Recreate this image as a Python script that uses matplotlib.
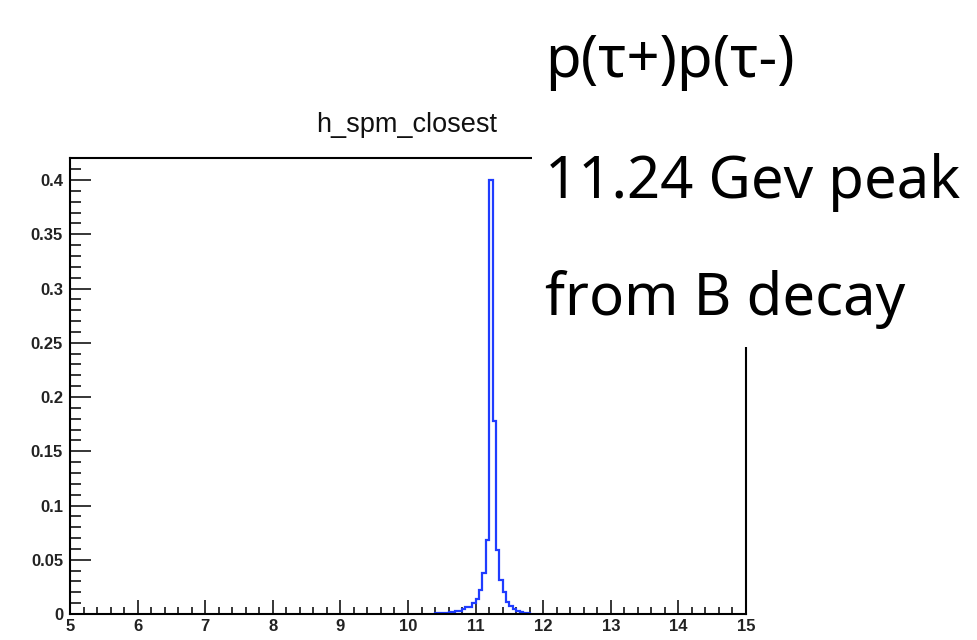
import numpy as np
import matplotlib
matplotlib.use("Agg")
import matplotlib.pyplot as plt
from matplotlib.patches import Rectangle
from matplotlib.ticker import MultipleLocator, FuncFormatter

# ---------------- data ----------------
title = "h_spm_closest"
bin_start = 10.40
bin_width = 0.05
bin_values = [0.0005, 0.0005, 0.0005, 0.0005, 0.0015, 0.002, 0.003, 0.003,
              0.005, 0.006, 0.006, 0.010, 0.014, 0.022, 0.038, 0.068,
              0.400, 0.178, 0.059, 0.031, 0.020, 0.011, 0.007, 0.005,
              0.003, 0.002, 0.001, 0.0005]
x_range = (5, 15)
y_range = (0, 0.4203)
annotation_lines = ["p(τ+)p(τ-)", "11.24 Gev peak", "from B decay"]

# ---------------- figure ----------------
W, H = 977, 640
fig = plt.figure(figsize=(W / 100, H / 100), dpi=100)
fig.patch.set_facecolor("white")

ax = fig.add_axes([70 / W, 1 - 614 / H, (746 - 70) / W, (614 - 158) / H])
edges = bin_start + bin_width * np.arange(len(bin_values) + 1)
ax.stairs(bin_values, edges, baseline=0, color="#1f3cff", lw=1.6, zorder=2)

ax.set_xlim(*x_range)
ax.set_ylim(*y_range)

for s in ax.spines.values():
    s.set_linewidth(1.5)
    s.set_color("black")
    s.set_zorder(3)

ax.xaxis.set_major_locator(MultipleLocator(1))
ax.xaxis.set_minor_locator(MultipleLocator(0.2))
ax.yaxis.set_major_locator(MultipleLocator(0.05))
ax.yaxis.set_minor_locator(MultipleLocator(0.01))
ax.yaxis.set_major_formatter(FuncFormatter(lambda v, p: f"{v:g}"))

ax.tick_params(axis="x", which="major", direction="in", length=9.8, width=1.1,
               pad=3.5, labelsize=12)
ax.tick_params(axis="x", which="minor", direction="in", length=4.9, width=1.1)
ax.tick_params(axis="y", which="major", direction="in", length=15, width=1.1,
               pad=5, labelsize=12)
ax.tick_params(axis="y", which="minor", direction="in", length=7.8, width=1.1)
for lab in ax.get_xticklabels() + ax.get_yticklabels():
    lab.set_family(["Liberation Sans", "DejaVu Sans"])
    lab.set_fontweight("bold")
    lab.set_color("#222222")
ax.set_facecolor("white")

fig.text(407 / W, 1 - 125 / H, title, ha="center", va="center",
         fontsize=19.5, family=["Liberation Sans", "DejaVu Sans"], color="#111111")

# white overlay box with annotation
box = Rectangle((532 / W, 1 - 347 / H), 1 - 532 / W, 347 / H,
                transform=fig.transFigure, facecolor="white", edgecolor="none",
                zorder=10)
fig.add_artist(box)

baselines = [77, 198, 315]
texts = []
for line, yb in zip(annotation_lines, baselines):
    t = fig.text(545 / W, 1 - yb / H, line, ha="left", va="baseline",
                 fontsize=40, family=["Noto Sans", "DejaVu Sans"],
                 color="black", zorder=11)
    texts.append(t)

# fit annotation size to the reference width of the middle line (~415 px)
fig.canvas.draw()
r = fig.canvas.get_renderer()
w = texts[1].get_window_extent(r).width
scale = 415 / w
for t in texts:
    t.set_fontsize(40 * scale)

fig.savefig("out.png", dpi=100, facecolor="white")
